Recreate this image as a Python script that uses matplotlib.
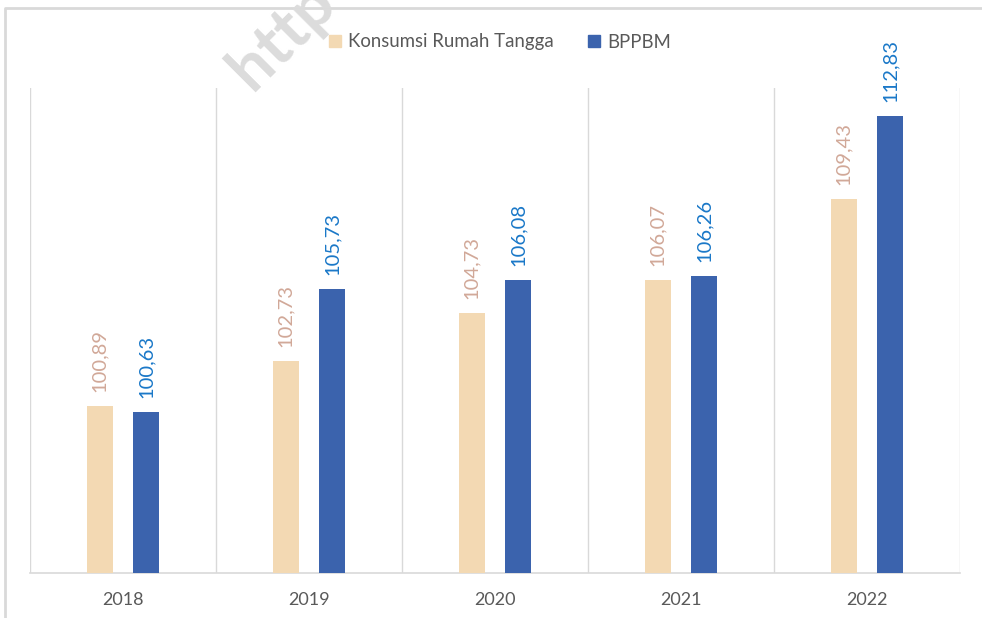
import matplotlib
matplotlib.use("Agg")
import matplotlib.pyplot as plt
from matplotlib.lines import Line2D
from matplotlib.patches import Patch
import numpy as np

plt.rcParams['font.family'] = ['Lato', 'DejaVu Sans']

# data
years = ['2018', '2019', '2020', '2021', '2022']
konsumsi = [100.89, 102.73, 104.73, 106.07, 109.43]
bppbm = [100.63, 105.73, 106.08, 106.26, 112.83]
series_names = ['Konsumsi Rumah Tangga', 'BPPBM']

c_kons = '#F3D9B3'
c_bpp = '#3B63AD'
c_kons_lbl = '#D1A898'
c_bpp_lbl = '#1A78C8'

fig = plt.figure(figsize=(9.82, 6.18), dpi=100)
ax = fig.add_axes([30 / 982, 1 - 573 / 618, 930 / 982, (573 - 88) / 618])

x = np.arange(len(years))
w = 0.14
off = 0.126
b1 = ax.bar(x - off, konsumsi, w, color=c_kons, zorder=3)
b2 = ax.bar(x + off, bppbm, w, color=c_bpp, zorder=3)

def fmt(v):
    return f'{v:.2f}'.replace('.', ',')

for bars, vals, col in [(b1, konsumsi, c_kons_lbl), (b2, bppbm, c_bpp_lbl)]:
    for b, v in zip(bars, vals):
        ax.annotate(fmt(v), (b.get_x() + b.get_width() / 2, v),
                    xytext=(0, 10), textcoords='offset points',
                    rotation=90, ha='center', va='bottom',
                    fontsize=14.5, color=col)

ax.set_xlim(-0.5, len(years) - 0.5)
ax.set_ylim(94, 114)
ax.set_yticks([])
ax.set_xticks(x)
ax.set_xticklabels(years, fontsize=13, color='#595959')
ax.tick_params(axis='x', length=0, pad=14)

# separators between categories
for s in np.arange(-0.5, len(years), 1.0):
    ax.axvline(s, color='#D9D9D9', lw=1, zorder=1)

for sp in ['top', 'left', 'right']:
    ax.spines[sp].set_visible(False)
ax.spines['bottom'].set_color('#D9D9D9')
ax.spines['bottom'].set_linewidth(1.2)

handles = [Patch(color=c_kons), Patch(color=c_bpp)]
fig.legend(handles, series_names, loc='center', bbox_to_anchor=(500 / 982, 1 - 42 / 618),
           ncol=2, frameon=False, fontsize=13.4, handlelength=0.65, handleheight=0.65,
           handletextpad=0.4, columnspacing=1.8, labelcolor='#595959')

# chart frame
fy = 1 - 8 / 618
fx = 5 / 982
fig.add_artist(Line2D([fx, fx, 1], [0, fy, fy], transform=fig.transFigure,
                      color='#D9D9D9', lw=2))

# watermark
fig.text(282 / 982, 1 - 36 / 618, 'http', rotation=45, ha='center', va='center',
         fontsize=47, fontweight='bold', color='#DCDCDC', zorder=10)

fig.savefig('out.png', dpi=100)
